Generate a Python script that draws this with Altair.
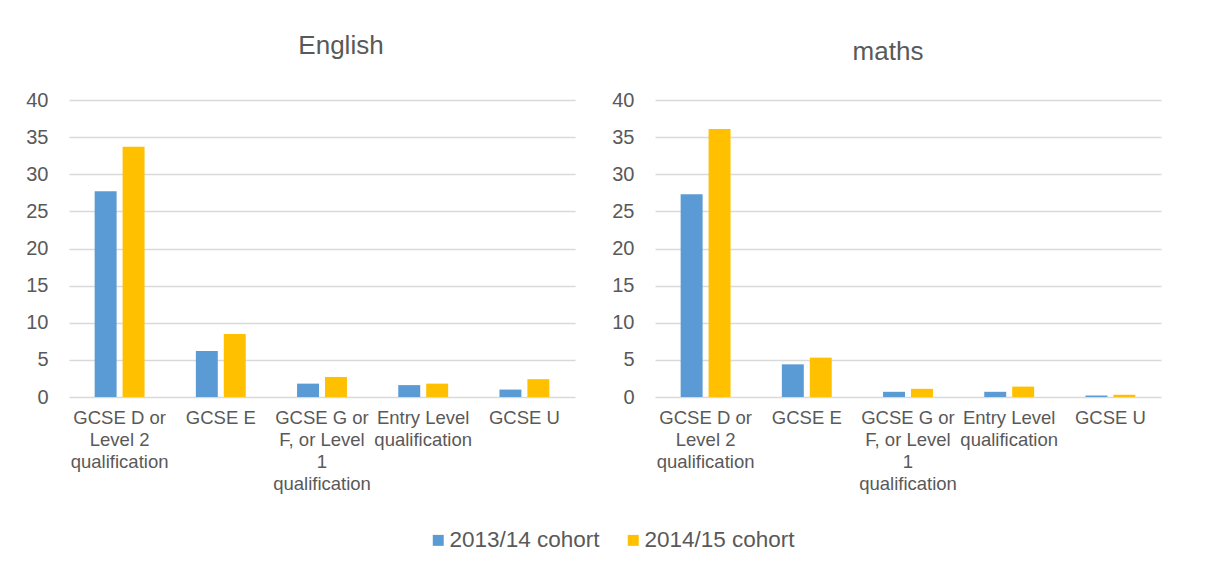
import altair as alt
import pandas as pd

# ---- data ----
categories = [
    "GCSE D or\nLevel 2\nqualification",
    "GCSE E",
    "GCSE G or\nF, or Level\n1\nqualification",
    "Entry Level\nqualification",
    "GCSE U",
]
cohorts = ["2013/14 cohort", "2014/15 cohort"]
english_1314 = [27.7, 6.2, 1.8, 1.6, 1.0]
english_1415 = [33.7, 8.5, 2.7, 1.8, 2.4]
maths_1314 = [27.3, 4.4, 0.7, 0.7, 0.2]
maths_1415 = [36.1, 5.3, 1.1, 1.4, 0.3]
y_ticks = [0, 5, 10, 15, 20, 25, 30, 35, 40]

colors = ["#5B9BD5", "#FFC000"]
TEXT = "#595959"
GRID = "#D9D9D9"
FONT = "Liberation Sans"


def frame(vals_a, vals_b, subject):
    rows = []
    for c, a, b in zip(categories, vals_a, vals_b):
        rows.append({"subject": subject, "category": c, "cohort": cohorts[0], "value": a})
        rows.append({"subject": subject, "category": c, "cohort": cohorts[1], "value": b})
    return pd.DataFrame(rows)


def panel(df, title, dx, offset, show_legend):
    color = alt.Color(
        "cohort:N",
        scale=alt.Scale(domain=cohorts, range=colors),
        legend=alt.Legend(
            title=None,
            orient="none",
            direction="horizontal",
            legendX=358,
            legendY=429,
            symbolType="square",
            symbolSize=120,
            symbolStrokeWidth=0,
            labelFontSize=22.5,
            labelFont=FONT,
            labelColor=TEXT,
            labelOffset=0,
            columnPadding=22,
        ) if show_legend else None,
    )
    return (
        alt.Chart(df)
        .mark_bar()
        .encode(
            x=alt.X(
                "category:N",
                sort=categories,
                title=None,
                scale=alt.Scale(paddingInner=0, paddingOuter=0),
                axis=alt.Axis(
                    labelAngle=0,
                    labelExpr="split(datum.label, '\\n')",
                    labelFontSize=18.5,
                    labelFont=FONT,
                    labelColor=TEXT,
                    labelLineHeight=22,
                    labelPadding=11,
                    labelLimit=300,
                    ticks=False,
                    domain=False,
                    grid=False,
                ),
            ),
            xOffset=alt.XOffset(
                "cohort:N",
                sort=cohorts,
                scale=alt.Scale(paddingInner=0.214, paddingOuter=0.918),
            ),
            y=alt.Y(
                "value:Q",
                title=None,
                scale=alt.Scale(domain=[0, 40], nice=False),
                axis=alt.Axis(
                    values=y_ticks,
                    labelFontSize=20,
                    labelFont=FONT,
                    labelColor=TEXT,
                    labelPadding=21,
                    ticks=False,
                    domain=False,
                    gridColor=GRID,
                    gridWidth=1.3,
                ),
            ),
            color=color,
        )
        .properties(
            width=506,
            height=297,
            title=alt.TitleParams(
                title,
                fontSize=26,
                font=FONT,
                fontWeight="normal",
                color=TEXT,
                baseline="alphabetic",
                offset=offset,
                dx=dx,
            ),
        )
    )


english = panel(frame(english_1314, english_1415, "English"), "English", 19, 10, True)
maths = panel(frame(maths_1314, maths_1415, "maths"), "maths", -20, 4, False)

chart = (
    alt.hconcat(english, maths, spacing=80, bounds="flush")
    .properties(
        padding={"left": 17, "top": 25, "right": 5, "bottom": 5},
        background="white",
    )
    .configure_view(strokeWidth=0, stroke="transparent")
)

chart.save("out.html", embed_options={"renderer": "svg", "actions": False})
